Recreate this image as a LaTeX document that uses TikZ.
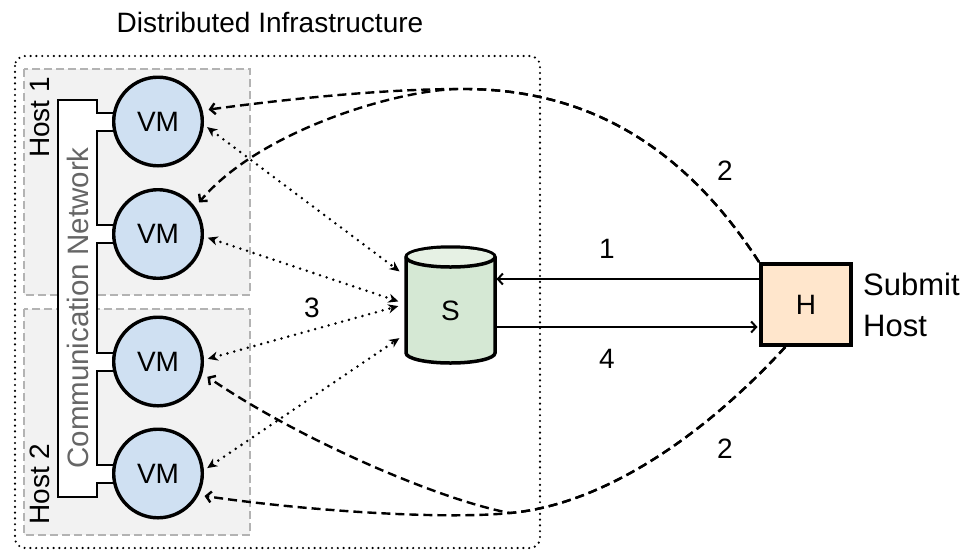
\documentclass[tikz,border=0pt]{standalone}
\usepackage{fontspec}
\setmainfont{Liberation Sans}
\usetikzlibrary{arrows.meta,calc}
\definecolor{hostfill}{HTML}{F2F2F2}
\definecolor{hostline}{HTML}{B3B3B3}
\definecolor{vmfill}{HTML}{CFE0F2}
\definecolor{sfill}{HTML}{D5E8D4}
\definecolor{stopfill}{HTML}{E6F1E4}
\definecolor{hfill}{HTML}{FFE6CC}
\definecolor{nettext}{HTML}{666666}
\pgfdeclarelayer{bg}
\pgfsetlayers{bg,main}
\begin{document}
\begin{tikzpicture}[x=1pt,y=-1pt,
  font=\fontsize{28}{32}\selectfont,
  hostbox/.style={draw=hostline, fill=hostfill, line width=1.8pt, dash pattern=on 8pt off 4pt},
  outerbox/.style={line width=2.4pt, dash pattern=on 0pt off 5.8pt, line cap=round, rounded corners=10pt},
  vm/.style={circle, draw, line width=3.4pt, fill=vmfill, minimum size=88.6pt, inner sep=0pt},
  hbox/.style={draw, line width=4pt, fill=hfill, minimum width=90pt, minimum height=81pt, inner sep=0pt},
  netbox/.style={draw, fill=white, line width=2pt, minimum width=39pt, minimum height=397pt, inner sep=0pt, outer sep=0pt},
  stub/.style={line width=2pt},
  dashconn/.style={line width=2.4pt, dash pattern=on 9pt off 5pt, -{Straight Barb[length=5pt,width=11pt]}, shorten >=6pt},
  dotconn/.style={line width=2.8pt, dash pattern=on 0pt off 7pt, line cap=round,
    {Stealth[length=10pt,width=9pt,inset=3pt]}-{Stealth[length=10pt,width=9pt,inset=3pt]}, shorten <=4pt, shorten >=8pt},
  solidconn/.style={line width=2pt, -{Straight Barb[length=5pt,width=11pt]}, shorten >=1.5pt},
  lbl/.style={inner sep=0pt}
]
\useasboundingbox (0,0) rectangle (968,550);

% title
\node[lbl] (title) at (270,22) {Distributed Infrastructure};

% VMs
\node[vm] (vm1) at (158,121.5) {VM};
\node[vm] (vm2) at (158,234) {VM};
\node[vm] (vm3) at (158,361.5) {VM};
\node[vm] (vm4) at (158,473.5) {VM};

\begin{pgfonlayer}{bg}
  \draw[outerbox] (15,56) rectangle (540,548);
  \draw[hostbox] (24,69) rectangle (250,295);
  \draw[hostbox] (24,309) rectangle (250,535);
  \node[lbl, rotate=90] (host1) at (40,117.5) {Host 1};
  \node[lbl, rotate=90] (host2) at (40,484) {Host 2};
  \node[netbox] (net) at (77.5,298.5) {};
  \node[lbl, rotate=90, text=nettext, font=\fontsize{29.5}{34}\selectfont] (nettxt) at (78,308) {Communication Network};
  \foreach \v in {vm1,vm2,vm3,vm4}{
    \fill[white] ([yshift=8pt,xshift=-1pt]net.east |- \v.center) rectangle ([yshift=-8pt,xshift=2pt]\v.west);
    \draw[stub] ([yshift=9pt]net.east |- \v.center) -- ([yshift=9pt,xshift=2pt]\v.west);
    \draw[stub] ([yshift=-9pt]net.east |- \v.center) -- ([yshift=-9pt,xshift=2pt]\v.west);
  }
\end{pgfonlayer}

% storage cylinder
\node[minimum width=89pt, minimum height=106pt, inner sep=0pt, outer sep=0pt] (S) at (450.5,311) {S};
\begin{pgfonlayer}{bg}
  \draw[line width=3.5pt, fill=sfill] (406,257) -- (406,353)
    arc[start angle=180, end angle=360, x radius=44.5pt, y radius=10pt] -- (495,257)
    arc[start angle=0, end angle=180, x radius=44.5pt, y radius=10pt] -- cycle;
  \fill[stopfill] (450.5,257) ellipse[x radius=43pt, y radius=8.5pt];
  \draw[line width=3.5pt] (406,257) arc[start angle=180, end angle=360, x radius=44.5pt, y radius=10pt];
\end{pgfonlayer}

% submit host
\node[hbox] (H) at (806,304.5) {H};
\node[lbl, anchor=west, align=left, font=\fontsize{31}{34}\selectfont] (sub) at (863,304.5) {Submit\\[7pt]Host};

% dashed connectors (2)
\draw[dashconn] (H.north west) .. controls (680,140) and (580,88) .. (460,89)
  .. controls (380,89) and (280,100) .. (vm1.14);
\draw[dashconn] (H.north west) .. controls (680,140) and (580,88) .. (460,89)
  .. controls (400,89) and (260,130) .. (vm2.36);
\draw[dashconn] (H.244) .. controls (700,440) and (600,505) .. (510,513)
  .. controls (440,520) and (300,510) .. (vm4.-28);
\draw[dashconn] (H.244) .. controls (700,440) and (600,505) .. (510,513)
  .. controls (440,500) and (300,440) .. (vm3.-15);

% dotted connectors (3)
\draw[dotconn] (vm1.-4) -- (S.142);
\draw[dotconn] (vm2.-3) -- (S.171);
\draw[dotconn] (vm3.2) -- (S.171);
\draw[dotconn] (vm4.4) -- (S.207);

% solid connectors (1, 4)
\draw[solidconn] ([yshift=25.5pt]H.west) -- ([yshift=25.5pt]H.west -| S.east);
\draw[solidconn] ([yshift=-22.5pt]H.west -| S.east) -- ([yshift=-22.5pt]H.west);

% labels
\node[lbl] (l1) at (607,249) {1};
\node[lbl] (l4) at (607,359) {4};
\node[lbl] (l2a) at (725,171) {2};
\node[lbl] (l2b) at (725,449) {2};
\node[lbl] (l3) at (312,308) {3};
\end{tikzpicture}
\end{document}
